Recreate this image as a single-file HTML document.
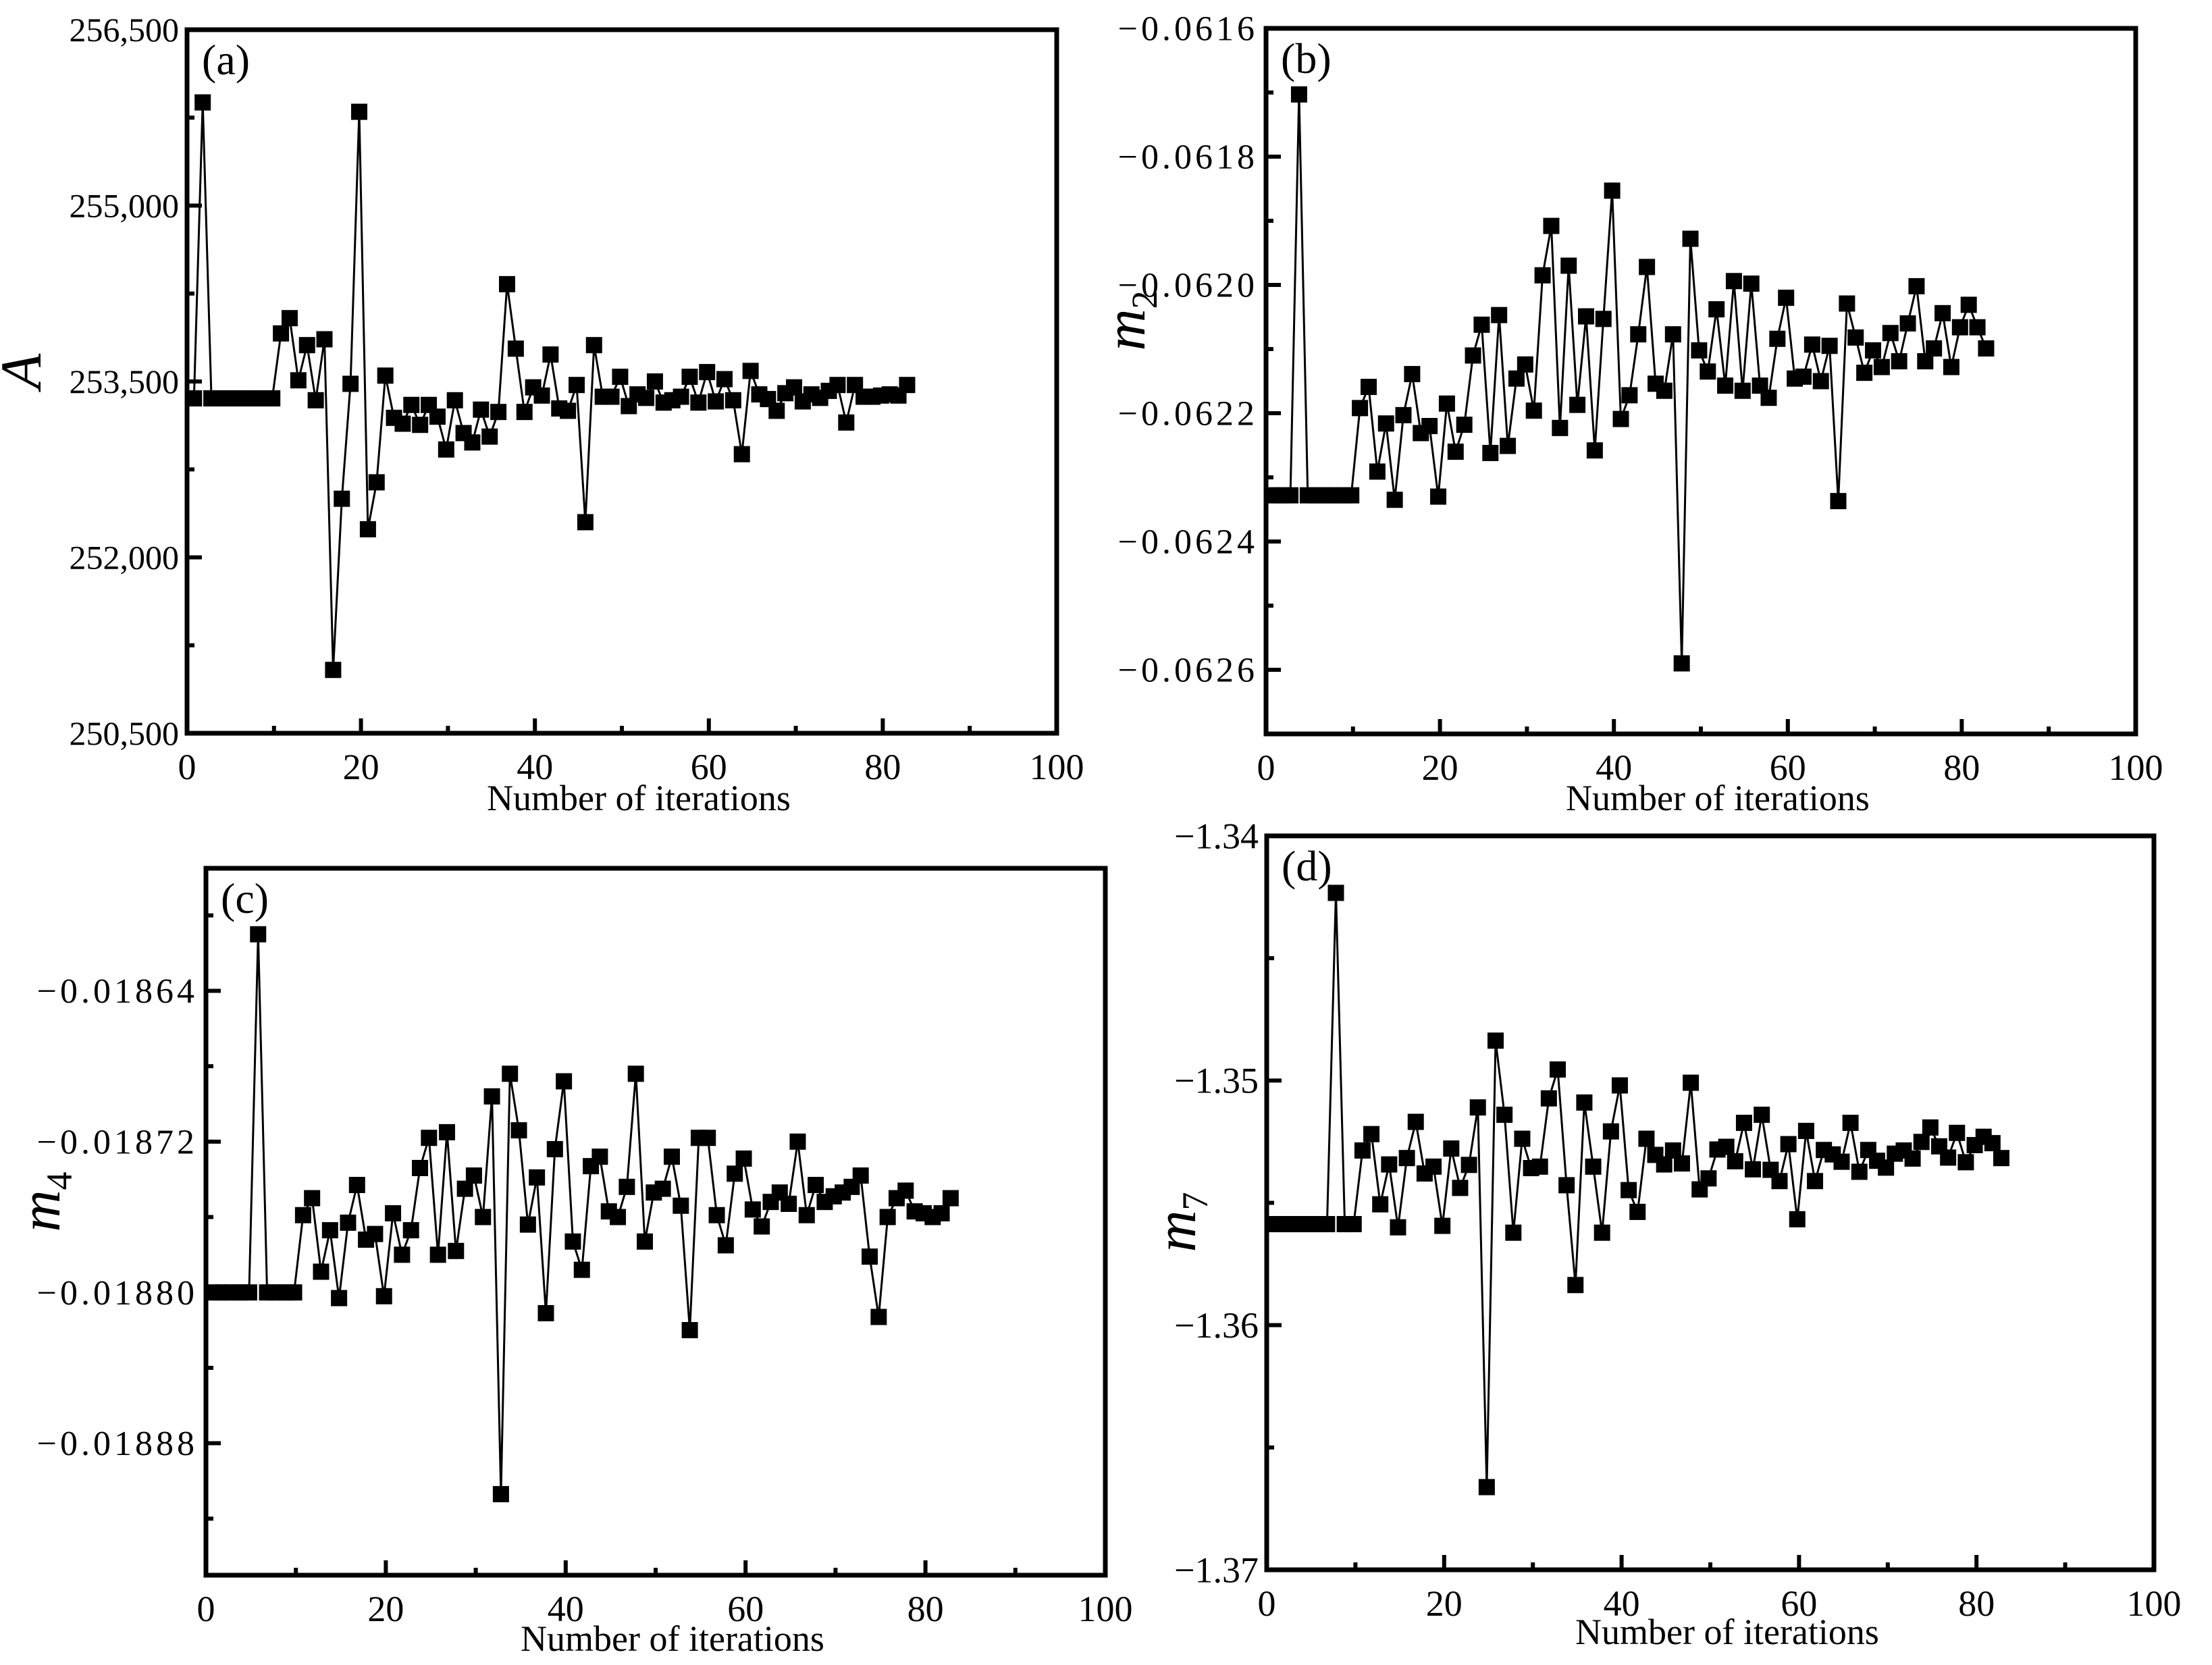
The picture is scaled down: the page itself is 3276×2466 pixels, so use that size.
<!DOCTYPE html>
<html><head><meta charset="utf-8">
<style>
html,body{margin:0;padding:0;background:#fff;}
svg{display:block;}
text{font-family:"Liberation Serif",serif;fill:#000;}
</style></head>
<body>
<svg id="fig" width="3276" height="2466" viewBox="0 0 3276 2466" xmlns="http://www.w3.org/2000/svg"></svg>
<script>
// ---- data (iteration index 0..82) ----
const aValues = [253356,255880,253356,253356,253356,253356,253356,253356,253356,253356,
253910,254040,253510,253810,253340,253860,251040,252500,253480,255800,
252240,252640,253550,253190,253140,253300,253130,253300,253200,252920,
253340,253060,252980,253260,253030,253240,254330,253780,253240,253450,
253380,253730,253270,253250,253470,252300,253810,253370,253370,253540,
253290,253390,253360,253500,253320,253340,253370,253540,253320,253580,
253330,253520,253340,252880,253590,253390,253350,253250,253400,253450,
253330,253390,253360,253420,253470,253150,253470,253370,253370,253380,
253390,253380,253470];
const bValues = [-0.062328,-0.062328,-0.062328,-0.061703,-0.062328,-0.062328,-0.062328,-0.062328,-0.062328,-0.062328,
-0.062192,-0.062159,-0.062291,-0.062216,-0.062335,-0.062203,-0.062139,-0.062231,-0.062220,-0.062330,
-0.062185,-0.062260,-0.062218,-0.062110,-0.062062,-0.062262,-0.062047,-0.062251,-0.062146,-0.062124,
-0.062196,-0.061985,-0.061908,-0.062223,-0.061970,-0.062187,-0.062049,-0.062258,-0.062053,-0.061853,
-0.062209,-0.062172,-0.062077,-0.061972,-0.062154,-0.062165,-0.062077,-0.062590,-0.061928,-0.062102,
-0.062135,-0.062038,-0.062157,-0.061994,-0.062165,-0.061998,-0.062157,-0.062176,-0.062084,-0.062020,
-0.062146,-0.062143,-0.062093,-0.062150,-0.062095,-0.062337,-0.062029,-0.062082,-0.062137,-0.062102,
-0.062128,-0.062075,-0.062119,-0.062060,-0.062002,-0.062119,-0.062099,-0.062044,-0.062128,-0.062066,
-0.062031,-0.062066,-0.062099];
const cValues = [-0.018800,-0.018800,-0.018800,-0.018800,-0.018800,-0.018610,-0.018800,-0.018800,-0.018800,-0.018800,
-0.018759,-0.018750,-0.018789,-0.018767,-0.018803,-0.018763,-0.018743,-0.018772,-0.018769,-0.018802,
-0.018758,-0.018780,-0.018767,-0.018734,-0.018718,-0.018780,-0.018715,-0.018778,-0.018745,-0.018738,
-0.018760,-0.018696,-0.018907,-0.018684,-0.018714,-0.018764,-0.018739,-0.018811,-0.018724,-0.018688,
-0.018773,-0.018788,-0.018733,-0.018728,-0.018757,-0.018760,-0.018744,-0.018684,-0.018773,-0.018747,
-0.018745,-0.018728,-0.018754,-0.018820,-0.018718,-0.018718,-0.018759,-0.018775,-0.018737,-0.018729,
-0.018756,-0.018765,-0.018752,-0.018747,-0.018753,-0.018720,-0.018759,-0.018743,-0.018752,-0.018749,
-0.018747,-0.018744,-0.018738,-0.018781,-0.018813,-0.018760,-0.018750,-0.018746,-0.018757,-0.018758,
-0.018760,-0.018758,-0.018750];
const dValues = [-1.35587,-1.35587,-1.35587,-1.35587,-1.35587,-1.35587,-1.35587,-1.34233,-1.35587,-1.35587,
-1.35286,-1.35219,-1.35506,-1.35343,-1.35600,-1.35317,-1.35169,-1.35380,-1.35352,-1.35594,
-1.35278,-1.35439,-1.35345,-1.35110,-1.36662,-1.34837,-1.35140,-1.35622,-1.35238,-1.35358,
-1.35352,-1.35073,-1.34955,-1.35428,-1.35836,-1.35090,-1.35352,-1.35622,-1.35208,-1.35020,
-1.35448,-1.35537,-1.35238,-1.35304,-1.35343,-1.35286,-1.35339,-1.35009,-1.35445,-1.35400,
-1.35282,-1.35271,-1.35330,-1.35173,-1.35363,-1.35140,-1.35365,-1.35411,-1.35260,-1.35567,
-1.35206,-1.35411,-1.35284,-1.35302,-1.35332,-1.35173,-1.35373,-1.35284,-1.35328,-1.35356,
-1.35299,-1.35286,-1.35319,-1.35251,-1.35192,-1.35269,-1.35315,-1.35214,-1.35334,-1.35264,
-1.35230,-1.35256,-1.35317];
const xTickValues = [0,20,40,60,80,100];
const xTickLabels = ["0","20","40","60","80","100"];
const xMinorValues = [10,30,50,70,90];
const aTickValues = [250500,252000,253500,255000,256500];
const aTickLabels = ["250,500","252,000","253,500","255,000","256,500"];
const aMinorValues = [251250,252750,254250,255750];
const bTickValues = [-0.0626,-0.0624,-0.0622,-0.0620,-0.0618,-0.0616];
const bTickLabels = ["\u22120.0626","\u22120.0624","\u22120.0622","\u22120.0620","\u22120.0618","\u22120.0616"];
const bMinorValues = [-0.0625,-0.0623,-0.0621,-0.0619,-0.0617];
const cTickValues = [-0.01888,-0.01880,-0.01872,-0.01864];
const cTickLabels = ["\u22120.01888","\u22120.01880","\u22120.01872","\u22120.01864"];
const cMinorValues = [-0.01892,-0.01884,-0.01876,-0.01868,-0.01860];
const dTickValues = [-1.37,-1.36,-1.35,-1.34];
const dTickLabels = ["\u22121.37","\u22121.36","\u22121.35","\u22121.34"];
const dMinorValues = [-1.365,-1.355,-1.345];

const NS = "http://www.w3.org/2000/svg";
const svg = document.getElementById('fig');
function mk(tag, attrs, parent){
  const e = document.createElementNS(NS, tag);
  for (const k in attrs) e.setAttribute(k, attrs[k]);
  (parent||svg).appendChild(e);
  return e;
}
function panel(p){
  const g = mk('g', {});
  
  
  const xs = v => p.L + (v - 0) / 100 * (p.R - p.L);
  const ys = v => p.B - (v - p.ymin) / (p.ymax - p.ymin) * (p.B - p.T);
  let d = '';
  p.vals.forEach((v, i) => { d += (i ? 'L' : 'M') + xs(i + 0.8).toFixed(1) + ' ' + ys(v).toFixed(1); });
  const ln = mk('path', {d: d, fill: 'none', stroke: '#000', 'stroke-width': 3}, g);
  
  
  p.vals.forEach((v, i) => {
    const r = mk('rect', {x: xs(i + 0.8) - 12, y: ys(v) - 12, width: 24, height: 24, fill: '#000'}, g);
    
    
  });
  const fr = mk('rect', {x: p.L, y: p.T, width: p.R - p.L, height: p.B - p.T, fill: 'none', stroke: '#000', 'stroke-width': 7}, g);
  
  
  xTickValues.forEach((v, i) => {
    mk('line', {x1: xs(v), x2: xs(v), y1: p.B, y2: p.B - 22, stroke: '#000', 'stroke-width': 6}, g);
    const t = mk('text', {x: xs(v), y: p.B + 68, 'font-size': 54, 'text-anchor': 'middle'}, g);
    t.textContent = xTickLabels[i];
    
    
  });
  xMinorValues.forEach(v => mk('line', {x1: xs(v), x2: xs(v), y1: p.B, y2: p.B - 11, stroke: '#000', 'stroke-width': 6}, g));
  p.ticks.forEach((v, i) => {
    mk('line', {x1: p.L, x2: p.L + 22, y1: ys(v), y2: ys(v), stroke: '#000', 'stroke-width': 6}, g);
    const t = mk('text', {x: p.L - 12, y: ys(v) + p.fs * 0.34, 'font-size': p.fs, 'text-anchor': 'end', 'letter-spacing': p.ls}, g);
    t.textContent = p.labels[i];
    
    
  });
  p.minors.forEach(v => mk('line', {x1: p.L, x2: p.L + 11, y1: ys(v), y2: ys(v), stroke: '#000', 'stroke-width': 6}, g));
  const pl = mk('text', {x: p.L + 22, y: p.T + 66, 'font-size': 64}, g);
  pl.textContent = '(' + p.id + ')';
  
  
  const xt = mk('text', {x: (p.L + p.R) / 2 + 25, y: p.xtY, 'font-size': 54, 'text-anchor': 'middle'}, g);
  xt.textContent = 'Number of iterations';
  
  
  const yt = mk('text', {transform: 'translate(' + p.ytX + ',' + p.ytY + ') rotate(-90)', 'font-size': 86, 'font-style': 'italic', 'text-anchor': 'middle'}, g);
  
  
  if (p.sub) {
    const m = mk('tspan', {}, yt); m.textContent = 'm';
    const s = mk('tspan', {'font-size': 54, dy: 18, 'font-style': 'normal'}, yt); s.textContent = p.sub;
  } else {
    yt.textContent = 'A';
  }
}
panel({id:'a', L:277, R:1565, T:44, B:1086, ymin:250500, ymax:256500, vals:aValues, ticks:aTickValues, labels:aTickLabels, minors:aMinorValues, ls:0, fs:50, xtY:1200, ytX:60, ytY:550, sub:null});
panel({id:'b', L:1875, R:3163, T:42, B:1087, ymin:-0.0627, ymax:-0.0616, vals:bValues, ticks:bTickValues, labels:bTickLabels, minors:bMinorValues, ls:5, fs:52, xtY:1200, ytX:1695, ytY:475, sub:'2'});
panel({id:'c', L:305, R:1637, T:1286, B:2333, ymin:-0.01895, ymax:-0.018575, vals:cValues, ticks:cTickValues, labels:cTickLabels, minors:cMinorValues, ls:5, fs:52, xtY:2445, ytX:88, ytY:1780, sub:'4'});
panel({id:'d', L:1876, R:3190, T:1238, B:2325, ymin:-1.37, ymax:-1.34, vals:dValues, ticks:dTickValues, labels:dTickLabels, minors:dMinorValues, ls:0, fs:54, xtY:2435, ytX:1770, ytY:1810, sub:'7'});
</script>
</body></html>
